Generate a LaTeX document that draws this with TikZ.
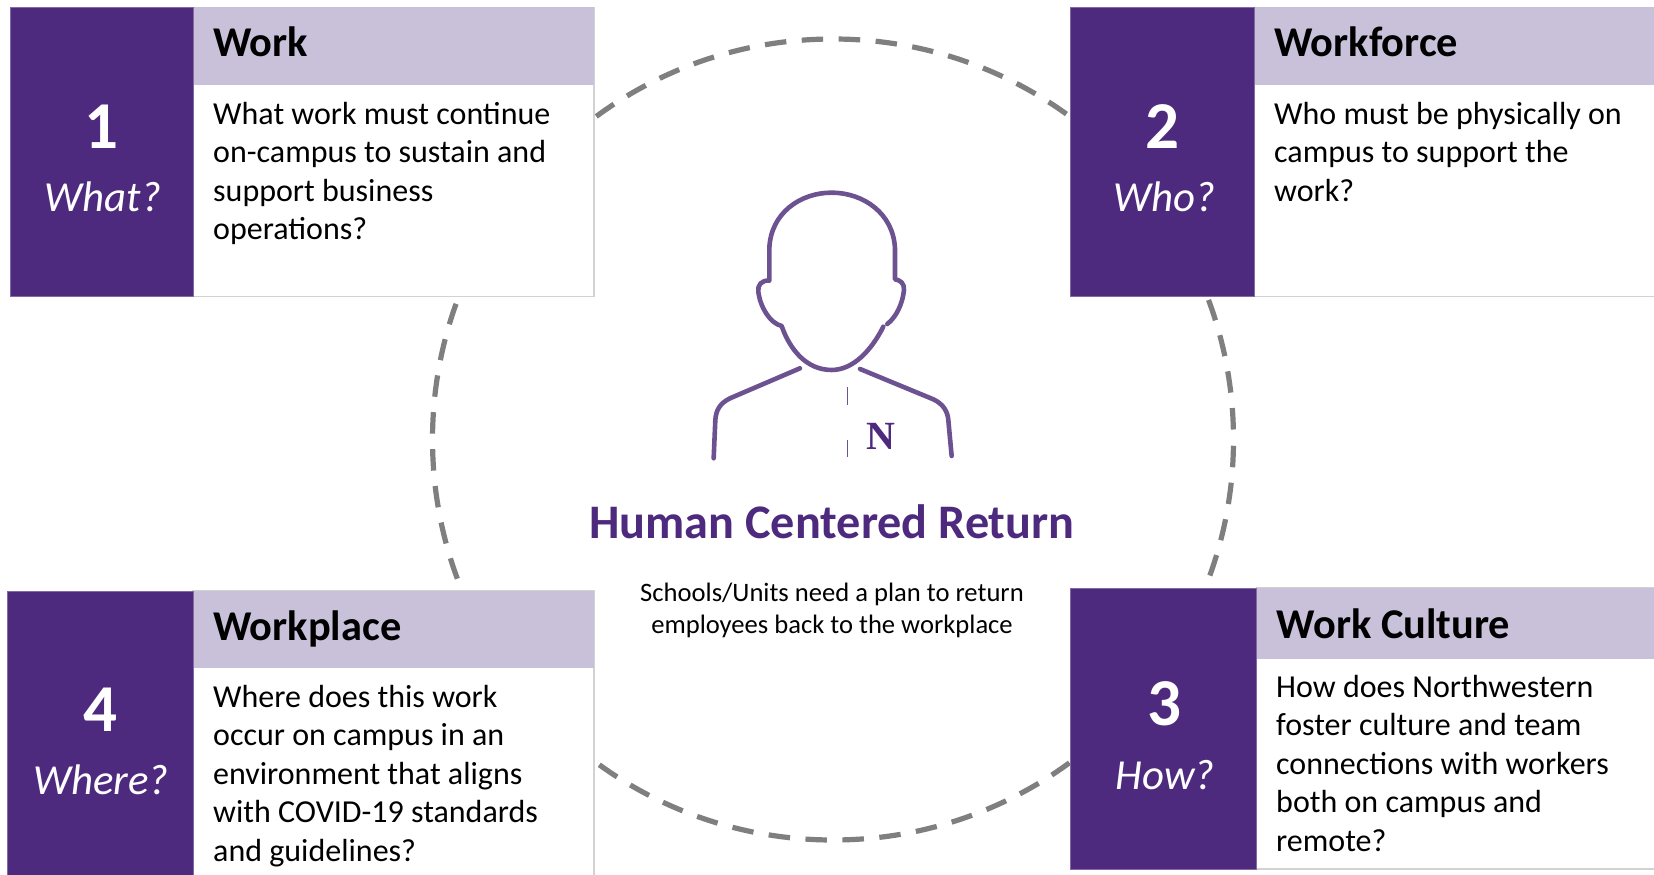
\documentclass[tikz,border=0pt]{standalone}
\usepackage{fontspec}
\setmainfont{Carlito}
\newfontfamily\serifN{Liberation Serif}
\definecolor{nupurple}{HTML}{4E2A7F}
\definecolor{nulight}{HTML}{C9C0DA}
\definecolor{edgegray}{HTML}{D2D2D2}
\definecolor{dashgray}{HTML}{7F7F7F}
\definecolor{personpurple}{HTML}{6C5291}
\tikzset{
  numbox/.style={fill=nupurple,draw=nupurple!70!white,line width=0.8pt},
  headbox/.style={fill=nulight,draw=none},
  bodybox/.style={fill=white,draw=edgegray,line width=1.2pt},
  numtext/.style={text=white,font=\bfseries\fontsize{67}{70}\selectfont,anchor=center,inner sep=0pt},
  whtext/.style={text=white,font=\itshape\fontsize{42.8}{46}\selectfont,anchor=center,inner sep=0pt},
  headtext/.style={text=black,font=\bfseries\fontsize{42.4}{46}\selectfont,anchor=base west,inner sep=0pt},
  bodytext/.style={text=black,font=\fontsize{32}{38.4}\selectfont,anchor=north west,inner sep=0pt,align=left},
  personline/.style={draw=personpurple,line width=4.6pt,line cap=round,line join=round}
}
\newcommand{\card}[6]{%
  % #1 left #2 split #3 right #4 top #5 headbottom #6 bottom
  \path[bodybox] (#2,#4) rectangle (#3,#6);
  \path[headbox] (#2,#4) rectangle (#3,#5);
  \path[numbox] (#1,#4) rectangle (#2,#6);
}
\begin{document}
\begin{tikzpicture}[x=1pt,y=-1pt]
\useasboundingbox (0,0) rectangle (1654,875);
\clip (0,0) rectangle (1654,875);
\fill[white] (0,0) rectangle (1654,875);
\node[circle,minimum size=801pt,inner sep=0pt,outer sep=0pt,draw=dashgray,line width=5.2pt,dash pattern=on 21.5pt off 15.5pt,dash phase=27pt] (ring) at (833,439.5) {};
% card 1
\card{10.5}{193}{594}{7.5}{84.5}{296.5}
\node[numtext] (n1) at (101,127) {1};
\node[whtext] (q1) at (103,197) {What?};
\node[headtext] (h1) at (213,57) {Work};
\node[bodytext] (b1) at (213,102) {What work must continue\\on-campus to sustain and\\support business\\operations?};
% card 2
\card{1070}{1254}{1665}{7.5}{84.5}{296.5}
\node[numtext] (n2) at (1162,127) {2};
\node[whtext] (q2) at (1164,197) {Who?};
\node[headtext] (h2) at (1274,57) {Workforce};
\node[bodytext] (b2) at (1274,102) {Who must be physically on\\campus to support the\\work?};
% card 3
\card{1070.5}{1256.5}{1665}{588}{658.5}{869}
\node[numtext] (n3) at (1164,704) {3};
\node[whtext] (q3) at (1165,775) {How?};
\node[headtext] (h3) at (1276.5,638) {Work Culture};
\node[bodytext] (b3) at (1276,675) {How does Northwestern\\foster culture and team\\connections with workers\\both on campus and\\remote?};
% card 4
\card{7.5}{193}{594}{591}{668}{885}
\node[numtext] (n4) at (100,710) {4};
\node[whtext] (q4) at (101,780) {Where?};
\node[headtext] (h4) at (213,640) {Workplace};
\node[bodytext] (b4) at (213,685) {Where does this work\\occur on campus in an\\environment that aligns\\with COVID-19 standards\\and guidelines?};
% centre
\node[anchor=center,inner sep=0pt,text=nupurple,font=\bfseries\fontsize{48.2}{50}\selectfont] (title) at (832,522) {Human Centered Return};
\node[anchor=center,inner sep=0pt,text=black,align=center,font=\fontsize{26.6}{32}\selectfont] (sub) at (832,610.5) {Schools/Units need a plan to return\\employees back to the workplace};
% person
\begin{scope}[shift={(680,170)},x=0.3333pt,y=-0.3333pt]
\draw[personline] (622,462) .. controls (650,440) and (668,400) .. (672,360)
  .. controls (674,340) and (660,330) .. (645,328)
  -- (645,235) .. controls (640,130) and (550,68) .. (455,68)
  .. controls (360,68) and (272,130) .. (268,235)
  -- (268,332) .. controls (245,330) and (232,345) .. (235,365)
  .. controls (240,410) and (270,460) .. (305,468)
  .. controls (330,540) and (380,600) .. (455,600)
  .. controls (520,600) and (575,540) .. (610,470);
\draw[personline] (360,595) -- (150,685) .. controls (120,700) and (108,720) .. (106,750) -- (101,865);
\draw[personline] (540,597) -- (760,688) .. controls (790,702) and (803,725) .. (805,750) -- (815,858);
\draw[personpurple,line width=1pt] (503,652) -- (503,705) (503,810) -- (503,862);
\end{scope}
\node[anchor=center,inner sep=0pt,text=nupurple,font=\serifN\bfseries\fontsize{40}{44}\selectfont] (nlogo) at (880.5,436) {N};
\end{tikzpicture}
\end{document}
